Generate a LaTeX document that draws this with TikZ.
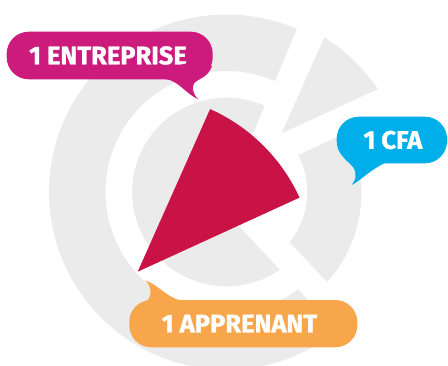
\documentclass[tikz,border=0pt]{standalone}
\usepackage{fontspec}
\setmainfont{Fira Sans}
\newfontfamily\bubfont{Fira Sans}[BoldFeatures={FakeBold=1.2}]
\definecolor{logogray}{HTML}{EBEBEB}
\definecolor{slicered}{HTML}{C91245}
\definecolor{bubmag}{HTML}{CC1B7D}
\definecolor{bubblue}{HTML}{00AEEA}
\definecolor{buborange}{HTML}{F8A64C}
\begin{document}
\begin{tikzpicture}[x=1pt,y=-1pt,
  bubble/.style={rounded corners=22pt, inner sep=0pt, text=white,
    font=\bubfont\fontsize{25.5}{25.5}\selectfont\bfseries},
  piece/.style={fill=logogray}]
\useasboundingbox (0,0) rectangle (448,365);
\coordinate (O) at (226.5,192);
% big C shape
\begin{scope}
  \clip (221.8,207.8) -- (371.6,-149.2) -- (-200,-200) -- (-200,600) -- (426.7,426.8) -- cycle;
  \fill[piece, even odd rule] (O) circle[radius=177.5] (O) circle[radius=121] (O) circle[radius=94.3];
\end{scope}
% right ring piece
\begin{scope}
  \clip (235.3,184) -- (689.3,-25) -- (800,-25) -- (800,549) -- (576.8,549) -- cycle;
  \fill[piece, even odd rule] (O) circle[radius=135] (O) circle[radius=80.7];
\end{scope}
% upper right piece
\begin{scope}
  \clip (281.7,133.3) -- (443.7,-232.3) -- (644.9,-33.9) -- cycle;
  \fill[piece] (O) circle[radius=183];
\end{scope}
% red slice
\coordinate (apex) at (137.7,271.7);
\fill[slicered] (apex) -- ++(-24.6:178) arc[start angle=-24.6, end angle=-66, radius=178] -- cycle;
% bubbles
\node[bubble, fill=bubmag, minimum width=206pt, minimum height=47.6pt] (ent) at (109.7,55.5) {\hspace*{-3.4pt}1 ENTREPRISE};
\fill[bubmag] (160,70) -- (165,79) .. controls (178,80) and (186,94) .. (198.3,99.3)
  .. controls (193,94) and (191.5,88) .. (194,83.5) .. controls (197,79) and (208,78) .. (212,66) -- (200,60) -- cycle;
\node[bubble, fill=bubblue, minimum width=110.3pt, minimum height=46.6pt] (cfa) at (391.85,140) {\hspace*{2.2pt}1 CFA};
\fill[bubblue] (341,150) .. controls (342,162) and (355,163) .. (355.5,174)
  .. controls (356,179) and (354,182) .. (351.7,185) .. controls (360,181) and (370,170) .. (385,163) -- (385,150) -- cycle;
\node[bubble, fill=buborange, minimum width=228pt, minimum height=47.3pt] (app) at (243.3,323.65) {\hspace*{-7.6pt}1 APPRENANT};
\fill[buborange] (145,280.3) .. controls (151,285) and (152,293) .. (149,298.5)
  .. controls (146.5,303) and (140,305) .. (134,311) -- (150,320) -- (180.3,300.3)
  .. controls (168,298) and (157,284) .. (145,280.3) -- cycle;
\end{tikzpicture}
\end{document}
